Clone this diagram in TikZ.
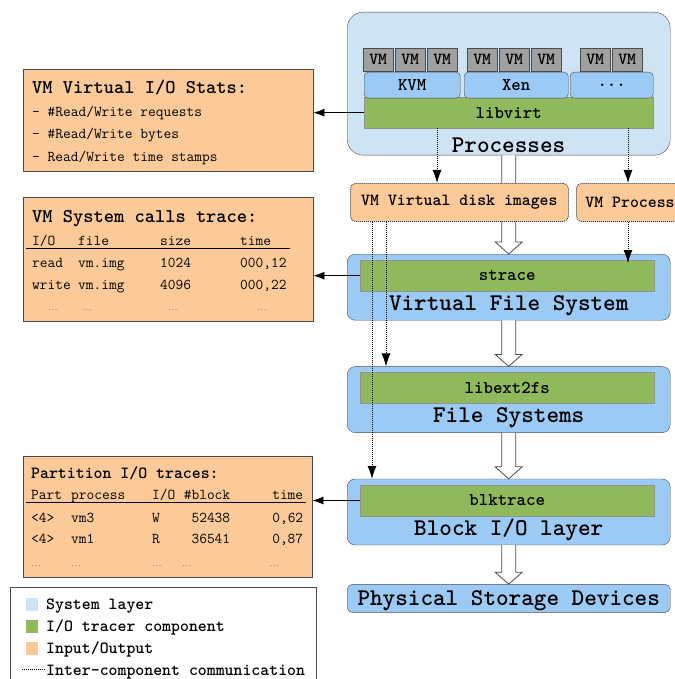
\documentclass[tikz,border=0pt]{standalone}
\usetikzlibrary{arrows.meta, positioning, calc}

\definecolor{syscolor}{RGB}{207,228,243}
\definecolor{layercolor}{RGB}{155,203,245}
\definecolor{tracercolor}{RGB}{143,185,90}
\definecolor{iocolor}{RGB}{252,202,152}
\definecolor{vmcolor}{RGB}{160,160,160}
\definecolor{edgecolor}{RGB}{75,75,75}

\newcommand{\fsz}[1]{\fontsize{#1}{#1}\selectfont}
\newcommand{\dd}{{\fsz{6}...}}
\newcommand{\sccols}[4]{\makebox[46pt][l]{#1}\makebox[82pt][l]{#2}\makebox[80pt][l]{#3}#4}
\newcommand{\ptcols}[5]{\makebox[40pt][l]{#1}\makebox[81pt][l]{#2}\makebox[30pt][l]{#3}\makebox[48pt][r]{#4}\makebox[73pt][r]{#5}}
\newcommand{\hollowarrow}[2]{%
  \draw[hollow] ($(#1.south)+(-7,0)$) -- ($(#2.north)+(-7,-12)$) -- ($(#2.north)+(-13.5,-12)$)
    -- (#2.north) -- ($(#2.north)+(13.5,-12)$) -- ($(#2.north)+(7,-12)$) -- ($(#1.south)+(7,0)$);}

\begin{document}
\begin{tikzpicture}[x=1pt, y=-1pt,
    syslayer/.style={draw=edgecolor, fill=syscolor, rounded corners=16pt, minimum width=323pt, minimum height=143pt},
    layer/.style={draw=edgecolor, fill=layercolor, rounded corners=8pt, minimum width=323pt, minimum height=66pt},
    tracer/.style={draw=edgecolor!60, fill=tracercolor, minimum width=294pt, minimum height=31pt, inner sep=0pt, font=\fsz{18}\ttfamily\bfseries},
    hyper/.style={draw=edgecolor, fill=layercolor, rounded corners=4pt, minimum height=26pt, inner sep=0pt, anchor=north west, font=\fsz{18}\ttfamily\bfseries},
    vmbox/.style={draw=edgecolor, fill=vmcolor, minimum width=30pt, minimum height=23pt, inner sep=0pt, anchor=north west, font=\fsz{17}\ttfamily\bfseries},
    layername/.style={anchor=base, inner sep=0pt, font=\fsz{24}\ttfamily\bfseries},
    iobox/.style={draw=edgecolor, fill=iocolor, anchor=north west, inner sep=0pt},
    iofile/.style={draw=black!80, line width=0.8pt, fill=iocolor, rounded corners=5pt, dash pattern=on 1pt off 1pt, anchor=north west, minimum height=38pt, font=\fsz{17}\ttfamily\bfseries},
    headtext/.style={anchor=base west, inner sep=0pt, font=\fsz{19.5}\ttfamily\bfseries},
    bodytext/.style={anchor=base west, inner sep=0pt, font=\fsz{15}\ttfamily},
    legendtext/.style={anchor=base west, inner sep=0pt, font=\fsz{17}\ttfamily\bfseries},
    swatch/.style={minimum width=12pt, minimum height=13pt, inner sep=0pt, anchor=north west},
    arrow/.style={-{Latex[length=11pt,width=8pt]}, line width=0.8pt},
    dotarrow/.style={-{Latex[length=13pt,width=9pt]}, line width=0.8pt, dash pattern=on 1pt off 1pt},
    hollow/.style={draw=edgecolor, fill=white, line width=0.8pt}
]
    \useasboundingbox (0,0) rectangle (674,679);

    % Processes
    \node[syslayer, anchor=north west] (proc) at (347,12) {};
    \foreach \x [count=\i] in {363,395,427,467,499,531,580,612}
        \node[vmbox] (vm\i) at (\x,48) {VM};
    \node[tracer, anchor=north west, minimum width=289pt] (libvirt) at (364,97) {libvirt};
    \node[hyper, minimum width=96pt] (kvm) at (364,72) {KVM};
    \node[hyper, minimum width=104pt] (xen) at (464,72) {Xen};
    \node[hyper, minimum width=83pt] (other) at (570,72) {...};
    \node[layername] (proclabel) at (508.5,153) {Processes};

    % Layers
    \node[layer, anchor=north west] (vfs) at (347,254) {};
    \node[layer, below=46pt of vfs] (fs) {};
    \node[layer, below=46pt of fs] (block) {};
    \node[layer, below=39pt of block, minimum height=28pt, rounded corners=5pt] (phys) {};
    \node[tracer, anchor=north] (strace) at ($(vfs.north)+(-1.5,6)$) {strace};
    \node[tracer, anchor=north] (libext) at ($(fs.north)+(-1.5,6)$) {libext2fs};
    \node[tracer, anchor=north] (blktrace) at ($(block.north)+(-1.5,6)$) {blktrace};
    \node[layername] (vfslabel) at ($(vfs.south)+(0,-10)$) {Virtual File System};
    \node[layername] (fslabel) at ($(fs.south)+(0,-10)$) {File Systems};
    \node[layername] (blocklabel) at ($(block.south)+(0,-10)$) {Block I/O layer};
    \node[layername] (physlabel) at ($(phys.south)+(0,-7)$) {Physical Storage Devices};

    % Hollow arrows between layers
    \hollowarrow{proc}{vfs}
    \hollowarrow{vfs}{fs}
    \hollowarrow{fs}{block}
    \hollowarrow{block}{phys}

    % Input/Output files
    \node[iofile, minimum width=218pt] (diskimg) at (350,183) {VM Virtual disk images};
    \node[iofile, inner xsep=9pt] (vmproc) at (576,183) {VM Process};

    % VM Virtual I/O Stats
    \node[iobox, minimum width=290pt, minimum height=102pt] (stats) at (23,69) {};
    \node[headtext] (statshead) at (32,93.5) {VM Virtual I/O Stats:};
    \node[bodytext] (stats1) at (32,116.5) {- \#Read/Write requests};
    \node[bodytext] (stats2) at (32,138.5) {- \#Read/Write bytes};
    \node[bodytext] (stats3) at (32,161.5) {- Read/Write time stamps};

    % VM System calls trace
    \node[iobox, minimum width=290pt, minimum height=124pt] (syscalls) at (23,197) {};
    \node[headtext] (schead) at (32,222.5) {VM System calls trace:};
    \node[bodytext] (sccol) at (32,245.5) {\sccols{I/O}{file}{size}{time}};
    \node[bodytext] (scrow1) at (32,267.5) {\sccols{read}{vm.img}{1024}{000,12}};
    \node[bodytext] (scrow2) at (32,289.5) {\sccols{write}{vm.img}{4096}{000,22}};
    \node[bodytext] (scdots) at (32,310) {\sccols{\hspace{16pt}\dd}{\hspace{4pt}\dd}{\hspace{8pt}\dd}{\hspace{17pt}\dd}};
    \draw[line width=0.8pt] (26,248.5) -- (290,248.5);

    % Partition I/O traces
    \node[iobox, minimum width=289pt, minimum height=121pt] (partition) at (23,456) {};
    \node[headtext, font=\fsz{17}\ttfamily\bfseries] (pthead) at (31,478) {Partition I/O traces:};
    \node[bodytext] (ptcol) at (31,499.5) {\ptcols{Part}{process}{I/O}{\#block}{time}};
    \node[bodytext] (ptrow1) at (31,522.5) {\ptcols{<4>}{vm3}{W}{52438}{0,62}};
    \node[bodytext] (ptrow2) at (31,543.5) {\ptcols{<4>}{vm1}{R}{36541}{0,87}};
    \node[bodytext] (ptdots) at (31,566) {\ptcols{\dd}{\dd}{\dd}{\dd\hfill}{\dd\hspace{24pt}}};
    \draw[line width=0.8pt] (26,502) -- (306,502);

    % Legend
    \node[draw=edgecolor, fill=white, anchor=north west, minimum width=306pt, minimum height=105pt] (legend) at (10,587) {};
    \node[swatch, fill=syscolor] (swsys) at (26,598) {};
    \node[swatch, fill=tracercolor] (swtracer) at (26,620) {};
    \node[swatch, fill=iocolor] (swio) at (26,642) {};
    \coordinate (swcomm) at (22,669);
    \node[legendtext] (lgsys) at (46,609) {System layer};
    \node[legendtext] (lgtracer) at (46,631) {I/O tracer component};
    \node[legendtext] (lgio) at (46,653) {Input/Output};
    \node[legendtext] (lgcomm) at (46,675) {Inter-component communication};
    \draw[line width=0.7pt, dash pattern=on 1pt off 1pt] (swcomm) -- (lgcomm.base west |- swcomm);

    % Arrows to outputs
    \draw[arrow] (libvirt.west) -- (libvirt.west -| stats.east);
    \draw[arrow] (strace.west) -- (strace.west -| syscalls.east);
    \draw[arrow] (blktrace.west) -- (blktrace.west -| partition.east);

    % Inter-component communication
    \coordinate (dkin) at ($(libvirt.south west)+(73,0)$);
    \coordinate (vpin) at ($(libvirt.south west)+(264,0)$);
    \coordinate (dkblock) at ($(diskimg.south west)+(22,0)$);
    \coordinate (dkfs) at ($(diskimg.south west)+(36,0)$);
    \coordinate (vpout) at (vpin |- vmproc.south);
    \draw[dotarrow] (dkin) -- (dkin |- diskimg.north);
    \draw[dotarrow] (vpin) -- (vpin |- vmproc.north);
    \draw[dotarrow] (dkblock) -- (dkblock |- block.north);
    \draw[dotarrow] (dkfs) -- (dkfs |- fs.north);
    \draw[dotarrow] (vpout) -- ($(vpout |- strace.north)+(0,3)$);

\end{tikzpicture}
\end{document}
